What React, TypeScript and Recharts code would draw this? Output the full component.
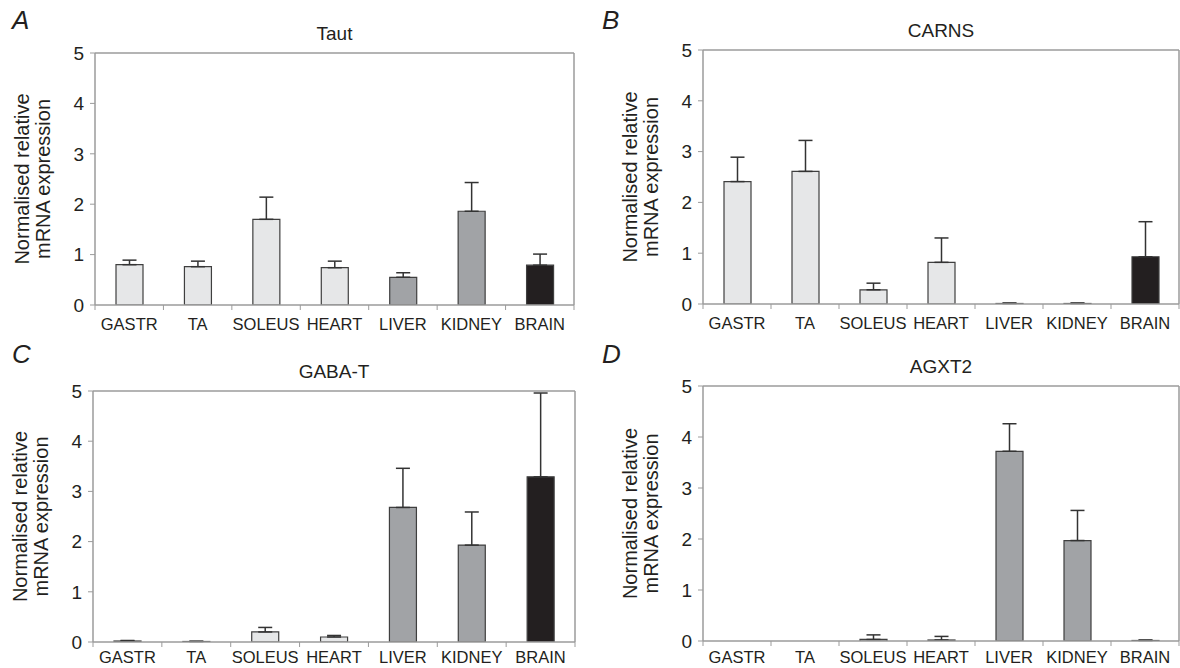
import { BarChart, Bar, XAxis, YAxis, Cell, ErrorBar, ReferenceLine } from "recharts";

const CATEGORIES = ["GASTR", "TA", "SOLEUS", "HEART", "LIVER", "KIDNEY", "BRAIN"];
const Y_TICKS = [0, 1, 2, 3, 4, 5];

// mean and upper error (SEM)
const TAUT_MEAN = [0.8, 0.76, 1.7, 0.74, 0.55, 1.86, 0.79];
const TAUT_ERR = [0.09, 0.11, 0.44, 0.13, 0.09, 0.57, 0.22];
const CARNS_MEAN = [2.41, 2.61, 0.28, 0.82, 0.01, 0.01, 0.93];
const CARNS_ERR = [0.48, 0.61, 0.13, 0.48, 0.01, 0.01, 0.69];
const GABAT_MEAN = [0.02, 0.01, 0.2, 0.1, 2.68, 1.93, 3.29];
const GABAT_ERR = [0.01, 0.005, 0.09, 0.03, 0.78, 0.66, 1.67];
const AGXT2_MEAN = [0, 0, 0.03, 0.02, 3.72, 1.97, 0.01];
const AGXT2_ERR = [0, 0, 0.09, 0.07, 0.54, 0.59, 0.01];

const LIGHT = "#e6e7e8";
const MID = "#a1a3a6";
const DARK = "#231f20";
const CAT_COLORS = [LIGHT, LIGHT, LIGHT, LIGHT, MID, MID, DARK];
const GRID = "#9b9b9b";
const TEXT = "#231f20";

const W = 590;
const H = 334;

const PANELS = [
  { letter: "A", title: "Taut", mean: TAUT_MEAN, err: TAUT_ERR, x: 0, y: 0, left: 95, top: 53, right: 574, bottom: 305, lab: 25 },
  { letter: "B", title: "CARNS", mean: CARNS_MEAN, err: CARNS_ERR, x: 590, y: 0, left: 113, top: 50, right: 589, bottom: 304, lab: 25 },
  { letter: "C", title: "GABA-T", mean: GABAT_MEAN, err: GABAT_ERR, x: 0, y: 334, left: 93, top: 57, right: 575, bottom: 308, lab: 21 },
  { letter: "D", title: "AGXT2", mean: AGXT2_MEAN, err: AGXT2_ERR, x: 590, y: 334, left: 113, top: 52, right: 589, bottom: 307, lab: 22 },
];

function CatTick(props: any) {
  const { x, y, payload, index, bw, lab } = props;
  return (
    <g>
      {index === 0 && <line x1={x - bw / 2} x2={x - bw / 2} y1={y} y2={y + 5} stroke={GRID} />}
      <line x1={x + bw / 2} x2={x + bw / 2} y1={y} y2={y + 5} stroke={GRID} />
      <text x={x} y={y + lab} textAnchor="middle" fontSize={16.5} fill={TEXT}>
        {payload.value}
      </text>
    </g>
  );
}

function YLabel(props: any) {
  const vb = props.viewBox || {};
  const px = vb.x + vb.width - 66;
  const cy = vb.y + vb.height / 2;
  return (
    <text
      x={px}
      y={cy}
      transform={`rotate(-90 ${px} ${cy})`}
      textAnchor="middle"
      fontSize={20}
      fill={TEXT}
    >
      <tspan x={px} y={cy}>Normalised relative</tspan>
      <tspan x={px} dy={21}>mRNA expression</tspan>
    </text>
  );
}

function Panel({ p }: { p: (typeof PANELS)[number] }) {
  const data = CATEGORIES.map((name, i) => ({ name, v: p.mean[i], e: [0, p.err[i]] }));
  const bw = (p.right - p.left) / CATEGORIES.length;
  return (
    <div style={{ position: "absolute", left: p.x, top: p.y, width: W, height: H }}>
      <div
        style={{
          position: "absolute",
          left: 12,
          top: 5,
          fontSize: 26,
          fontStyle: "italic",
          color: TEXT,
          lineHeight: "30px",
        }}
      >
        {p.letter}
      </div>
      <BarChart
        width={W}
        height={H}
        data={data}
        margin={{ top: p.top, right: W - p.right - 1, bottom: 0, left: 0 }}
      >
        <XAxis
          dataKey="name"
          interval={0}
          height={H - p.bottom}
          tickSize={0}
          tickMargin={0}
          tickLine={false}
          axisLine={{ stroke: GRID, strokeWidth: 1.5 }}
          tick={<CatTick bw={bw} lab={p.lab} />}
        />
        <YAxis
          width={p.left}
          domain={[0, 5]}
          ticks={Y_TICKS}
          allowDataOverflow
          tickSize={5}
          tickMargin={6}
          axisLine={{ stroke: GRID, strokeWidth: 1.5 }}
          tickLine={{ stroke: GRID }}
          tick={{ fill: TEXT, fontSize: 19 }}
          label={<YLabel />}
        />
        <YAxis
          yAxisId="frame"
          orientation="right"
          width={1}
          domain={[0, 5]}
          tick={false}
          tickLine={false}
          axisLine={{ stroke: GRID, strokeWidth: 1.5 }}
        />
        <ReferenceLine
          y={5}
          stroke={GRID}
          strokeWidth={1.5}
          label={{ value: p.title, position: "top", offset: 13, fontSize: 19, fill: TEXT }}
        />
        <Bar dataKey="v" barSize={27} stroke="#3f3f3f" strokeWidth={1.2} isAnimationActive={false}>
          {data.map((_, i) => (
            <Cell key={`c-${i}`} fill={CAT_COLORS[i]} />
          ))}
          <ErrorBar dataKey="e" direction="y" width={7} stroke="#333333" strokeWidth={1.5} />
        </Bar>
      </BarChart>
    </div>
  );
}

export default function App() {
  return (
    <div
      style={{
        position: "absolute",
        left: 0,
        top: 0,
        width: 1180,
        height: 668,
        background: "#ffffff",
        fontFamily: "'Liberation Sans', Arial, sans-serif",
        overflow: "hidden",
      }}
    >
      {PANELS.map((p) => (
        <Panel key={p.letter} p={p} />
      ))}
    </div>
  );
}
